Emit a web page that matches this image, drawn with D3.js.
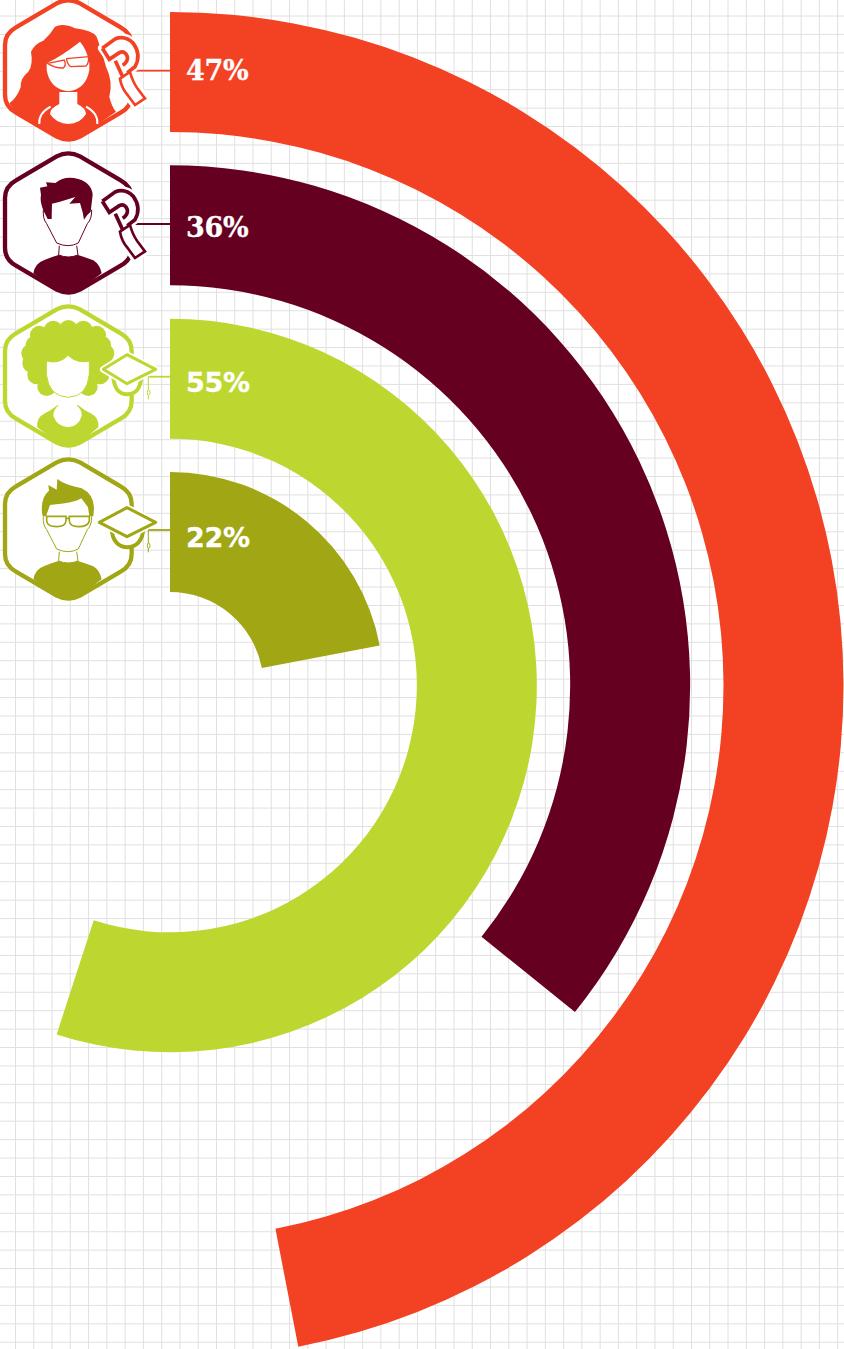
<!DOCTYPE html>
<html><head><meta charset="utf-8">
<script src="https://d3js.org/d3.v7.min.js"></script>
<style>html,body{margin:0;padding:0;background:#fff}svg{display:block}</style>
</head><body><svg id="c" width="844" height="1349"></svg>
<script>
const labels=["47%","36%","55%","22%"];
const values=[46.95,35.8,55,22];
const colors=["#f34123","#660021","#bed730","#a0a614"];
const badges=["magnet","magnet","cap","cap"];
const people=["woman","man","afro","glasses"];
const textFonts=["'DejaVu Serif'","'DejaVu Serif'","'DejaVu Sans'","'DejaVu Sans'"];
const textY=[80,237,392,547];
const lineY=[70.6,224,376.7,530];

const W=844,H=1349,cx=170,cy=685.5,band=120;
const svg=d3.select("#c");
const angle=d3.scaleLinear().domain([0,100]).range([0,2*Math.PI]);
const outer=d3.scaleLinear().domain([0,3]).range([673.5,213.5]);
const iconY=d3.scaleLinear().domain([0,3]).range([0,459]);

// background grid
const gx=d3.range(15.5,W,18.27), gy=d3.range(16,H,18.42);
const grid=svg.append("g").attr("stroke","#e0e0e0").attr("stroke-width",1);
grid.selectAll(".v").data(gx).join("line").attr("x1",d=>d).attr("x2",d=>d).attr("y1",0).attr("y2",H);
grid.selectAll(".h").data(gy).join("line").attr("y1",d=>d).attr("y2",d=>d).attr("x1",0).attr("x2",W);

// arcs
const arc=d3.arc();
svg.append("g").selectAll("path").data(values).join("path")
 .attr("transform",`translate(${cx},${cy})`)
 .attr("fill",(d,i)=>colors[i])
 .attr("d",(d,i)=>arc({innerRadius:outer(i)-band,outerRadius:outer(i),startAngle:0,endAngle:angle(d)}));

// connector lines
svg.append("g").selectAll("line").data(values).join("line")
 .attr("x1",(d,i)=>badges[i]=="cap"?148:133).attr("x2",cx)
 .attr("y1",(d,i)=>lineY[i]).attr("y2",(d,i)=>lineY[i])
 .attr("stroke",(d,i)=>colors[i]).attr("stroke-width",1.8);

// labels
svg.append("g").selectAll("text").data(labels).join("text")
 .attr("x",186).attr("y",(d,i)=>textY[i]).text(d=>d)
 .attr("fill","#fff").attr("stroke","#fff").attr("stroke-width",0.3)
 .attr("font-weight",700).attr("font-size",27).attr("letter-spacing",-0.3)
 .attr("font-family",(d,i)=>textFonts[i]);

// icons, drawn in a 3x local space
const HEX="M15,135 Q15,100 48,82 L170,10 Q205,-8 240,10 L362,82 Q395,100 395,135 L395,285 Q395,320 362,338 L240,410 Q205,428 170,410 L48,338 Q15,320 15,285 Z";
const FOOT="L240,410 Q205,428 170,410 Z";
const BODY="M100,361 Q105,330 135,320 Q160,310 178,305 L232,305 Q255,312 280,322 Q300,335 305,361 "+FOOT;
function woman(g,c){
 g.append("path").attr("fill",c).attr("d","M28,310 Q50,295 62,262 Q60,235 85,215 Q100,195 93,155 Q105,130 130,122 Q150,105 165,80 Q190,68 225,85 Q275,90 290,110 Q305,150 318,200 Q340,245 328,290 Q335,320 348,335 L240,410 Q205,428 170,410 L48,338 Z");
 g.append("path").attr("fill","#fff").attr("d","M140,190 Q190,165 240,125 Q262,150 268,190 L268,210 Q258,268 205,274 Q150,268 140,210 Z");
 g.append("path").attr("fill","#fff").attr("d","M178,276 L232,276 L232,312 Q258,325 258,342 Q240,372 205,372 Q170,372 150,342 Q150,325 178,312 Z");
 g.append("path").attr("fill","none").attr("stroke","#fff").attr("stroke-width",6).attr("d","M118,372 Q115,340 152,320 M292,372 Q295,340 258,320");
 g.append("path").attr("fill","#fff").attr("stroke",c).attr("stroke-width",4).attr("d","M143,190 L193,180 Q200,195 190,204 Q165,205 143,190 Z M200,176 L266,170 Q266,192 258,198 L212,200 Q200,190 200,176 Z");
}
function man(g,c){
 g.append("path").attr("fill",c).attr("d",BODY);
 g.append("path").attr("fill","#fff").attr("stroke",c).attr("stroke-width",3).attr("d","M178,278 L176,306 Q205,318 234,306 L230,278");
 g.append("path").attr("fill","#fff").attr("stroke",c).attr("stroke-width",3).attr("d","M130,170 Q128,198 140,212 L170,270 Q205,286 235,270 L262,212 Q276,198 275,170");
 g.append("path").attr("fill",c).attr("d","M132,176 Q118,145 123,126 L120,104 L142,100 L138,88 L166,90 Q195,66 235,78 Q275,90 278,125 L272,176 L262,186 L252,200 L248,178 L240,150 L208,152 L226,132 L180,146 L156,152 L155,198 L143,198 Z");
}
function afro(g,c){
 const blobs=[[205,70],[160,72],[250,72],[118,87],[290,87],[105,117],[305,117],[92,142],[315,142],[95,172],[315,177],[110,207],[300,207],[140,242],[265,242]];
 g.append("g").attr("fill",c).selectAll("circle").data(blobs).join("circle").attr("cx",d=>d[0]).attr("cy",d=>d[1]).attr("r",28);
 g.append("ellipse").attr("fill",c).attr("cx",205).attr("cy",155).attr("rx",105).attr("ry",100);
 g.append("path").attr("fill",c).attr("d","M112,364 Q108,335 135,322 Q155,312 172,298 L235,298 Q250,312 272,322 Q298,335 295,364 L240,410 Q205,428 170,410 Z");
 g.append("path").attr("fill","#fff").attr("d","M176,272 L230,272 L230,298 Q248,315 245,330 Q235,362 205,364 Q172,362 160,330 Q160,310 176,298 Z");
 g.append("path").attr("fill","#fff").attr("stroke",c).attr("stroke-width",3).attr("d","M139,165 Q178,176 204,148 Q232,174 268,165 L268,205 Q262,272 205,274 Q146,272 139,205 Z");
}
function glasses(g,c){
 g.append("path").attr("fill",c).attr("d",BODY);
 g.append("path").attr("fill","#fff").attr("stroke",c).attr("stroke-width",3).attr("d","M178,278 L176,306 Q205,318 234,306 L230,278");
 g.append("path").attr("fill","#fff").attr("stroke",c).attr("stroke-width",3).attr("d","M130,172 Q128,198 140,212 L170,270 Q205,286 235,270 L262,212 Q276,198 275,172");
 g.append("path").attr("fill",c).attr("d","M126,160 Q122,115 147,95 L145,78 L170,92 L172,60 Q195,78 245,88 Q280,105 282,145 L280,172 L268,172 L264,145 L244,118 Q225,132 150,138 L138,172 L128,172 Z");
 g.append("path").attr("fill","#fff").attr("stroke",c).attr("stroke-width",5).attr("d","M140,172 H198 V186 Q196,203 170,203 Q142,203 140,186 Z M208,172 H268 V186 Q264,203 236,203 Q210,203 208,186 Z M198,178 H208");
}
function magnet(g,c){
 const m=g.append("g").attr("transform","translate(270,90)");
 const outline="M37,55 L75,27 Q105,15 130,40 Q155,75 135,110 L112,128 L95,140 L60,88 Z";
 const plug="M90,146 L120,126 Q128,155 142,175 L165,205 L135,225 L113,195 Q95,175 90,146 Z";
 m.append("path").attr("d",plug).attr("fill","#fff").attr("stroke","#fff").attr("stroke-width",26).attr("stroke-linejoin","round");
 m.append("path").attr("d",outline).attr("fill","#fff").attr("stroke","#fff").attr("stroke-width",26).attr("stroke-linejoin","round");
 m.append("path").attr("d",plug).attr("fill","#fff").attr("stroke",c).attr("stroke-width",8);
 m.append("path").attr("d","M37,55 L75,27 Q105,15 130,40 Q155,75 135,110 L112,128 M37,55 L58,88 L88,68 Q105,60 112,80 Q115,95 98,106").attr("fill","none").attr("stroke",c).attr("stroke-width",11);
 m.append("path").attr("d","M76,92 L98,140").attr("fill","none").attr("stroke",c).attr("stroke-width",11);
}
function cap(g,c,i){
 const L=i==2?310:298, a=i==2?340:335, b=i==2?424:430;
 g.append("path").attr("d",`M${a},205 C${a},250 360,265 382,265 C404,265 ${b},250 ${b},205`).attr("fill","#fff").attr("stroke",c).attr("stroke-width",12);
 g.append("path").attr("d",`M${L},190 L381,146 L467,190 L381,233 Z`).attr("fill","#fff").attr("stroke","#fff").attr("stroke-width",20).attr("stroke-linejoin","round");
 g.append("path").attr("d",`M${L},190 L381,146 L467,190 L381,233 Z`).attr("fill","#fff").attr("stroke",c).attr("stroke-width",9).attr("stroke-linejoin","round");
 g.append("path").attr("d",`M445,212 V280`).attr("stroke",c).attr("stroke-width",3);
 g.append("ellipse").attr("cx",446).attr("cy",260).attr("rx",4).attr("ry",8).attr("fill","#fff").attr("stroke",c).attr("stroke-width",3);
}
const personFn={woman,man,afro,glasses}, badgeFn={magnet,cap};
values.forEach((v,i)=>{
 const g=svg.append("g").attr("transform",`translate(0,${iconY(i)}) scale(0.3333)`);
 const c=colors[i];
 g.append("path").attr("d",HEX).attr("fill","#fff").attr("stroke",c).attr("stroke-width",13);
 personFn[people[i]](g,c);
 badgeFn[badges[i]](g,c,i);
});
</script></body></html>
